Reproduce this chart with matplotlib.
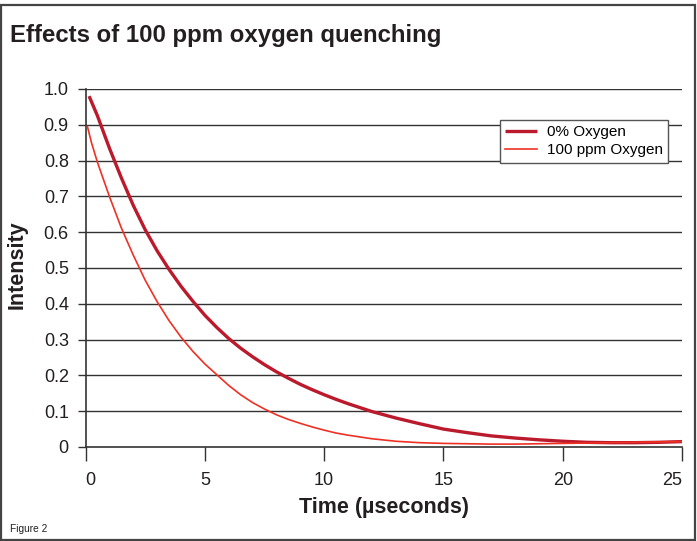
import matplotlib
matplotlib.use("Agg")
import matplotlib.pyplot as plt
from matplotlib.patches import Rectangle

plt.rcParams['font.family'] = ['Liberation Sans', 'DejaVu Sans']

# readings from the reference picture
t_0pct = [0.15, 0.5, 1.0, 1.5, 2.0, 2.5, 3.0, 3.5, 4.0, 4.5, 5.0, 5.5, 6.0,
          6.5, 7.0, 7.5, 8.0, 8.5, 9.0, 9.5, 10.0, 10.5, 11.0, 11.5, 12.0,
          13.0, 14.0, 15.0, 16.0, 17.0, 18.0, 19.0, 20.0, 21.0, 22.0, 23.0,
          24.0, 25.0]
i_0pct = [0.98, 0.925, 0.835, 0.752, 0.675, 0.607, 0.548, 0.496, 0.449, 0.407,
          0.368, 0.334, 0.303, 0.276, 0.252, 0.230, 0.210, 0.192, 0.175,
          0.160, 0.146, 0.133, 0.121, 0.110, 0.099, 0.081, 0.065, 0.050,
          0.040, 0.031, 0.025, 0.020, 0.016, 0.013, 0.012, 0.012, 0.013, 0.015]

t_100ppm = [0.08, 0.25, 0.5, 1.0, 1.5, 2.0, 2.5, 3.0, 3.5, 4.0, 4.5, 5.0, 5.5,
            6.0, 6.5, 7.0, 7.5, 8.0, 8.5, 9.0, 9.5, 10.0, 10.5, 11.0, 12.0,
            13.0, 14.0, 15.0, 16.0, 17.0, 18.0, 19.0, 20.0, 21.0, 22.0, 23.0,
            24.0, 25.0]
i_100ppm = [0.895, 0.85, 0.795, 0.70, 0.612, 0.536, 0.466, 0.406, 0.353,
            0.307, 0.267, 0.232, 0.202, 0.172, 0.146, 0.124, 0.106, 0.090,
            0.077, 0.066, 0.056, 0.047, 0.039, 0.033, 0.023, 0.016, 0.012,
            0.010, 0.009, 0.008, 0.008, 0.009, 0.010, 0.011, 0.012, 0.013,
            0.014, 0.015]

x_ticks = [0, 5, 10, 15, 20, 25]
y_ticks = [0, 0.1, 0.2, 0.3, 0.4, 0.5, 0.6, 0.7, 0.8, 0.9, 1.0]
y_labels = ['0', '0.1', '0.2', '0.3', '0.4', '0.5', '0.6', '0.7', '0.8', '0.9', '1.0']

fig = plt.figure(figsize=(6.97, 5.41), dpi=100)
ax = fig.add_axes([0.1227, 0.1738, 0.8558, 0.6617])

grid_col = '#333333'
for yv in y_ticks[1:]:
    ax.axhline(yv, color=grid_col, lw=1.0, zorder=1)

ax.plot(t_0pct, i_0pct, color='#bb1a2c', lw=2.4, label='0% Oxygen', zorder=3,
        solid_capstyle='butt')
ax.plot(t_100ppm, i_100ppm, color='#ee3124', lw=1.2, label='100 ppm Oxygen', zorder=3)

ax.set_xlim(0, 25)
ax.set_ylim(0, 1.0)
ax.set_xticks(x_ticks)
ax.set_yticks(y_ticks)
ax.set_yticklabels(y_labels)
ax.tick_params(axis='x', direction='out', length=10, width=1.0, color=grid_col,
               labelsize=13, pad=8, labelcolor='#231f20')
ax.tick_params(axis='y', direction='out', length=6, width=1.0, color=grid_col,
               labelsize=13, pad=6, labelcolor='#231f20')
xl = ax.get_xticklabels()
xl[0].set_ha('left')
xl[-1].set_ha('right')

for s in ['top', 'right']:
    ax.spines[s].set_visible(False)
for s in ['left', 'bottom']:
    ax.spines[s].set_color(grid_col)
    ax.spines[s].set_linewidth(1.2)

ax.set_xlabel('Time (µseconds)', fontsize=15.5, fontweight='bold', color='#231f20')
ax.xaxis.set_label_coords(0.5, -0.14)
ax.set_ylabel('Intensity', fontsize=15.5, fontweight='bold', color='#231f20')
ax.yaxis.set_label_coords(-0.097, 0.51)

leg = ax.legend(loc='upper right', bbox_to_anchor=(0.9765, 0.913), fontsize=11,
                frameon=True, fancybox=False, handlelength=2.1, handletextpad=0.6,
                borderpad=0.35, labelspacing=0.25, borderaxespad=0)
leg.get_frame().set_edgecolor('#555555')
leg.get_frame().set_linewidth(1.0)
leg.get_frame().set_alpha(1)

fig.text(10 / 697, 1 - 42 / 541, 'Effects of 100 ppm oxygen quenching',
         fontsize=17.3, fontweight='bold', color='#231f20', va='baseline', ha='left')
fig.text(10 / 697, 1 - 532 / 541, 'Figure 2', fontsize=7.3, color='#231f20',
         va='baseline', ha='left')

# outer frame
fig.patches.append(Rectangle((0.0015, 0.002), 0.9955, 0.989, transform=fig.transFigure,
                             fill=False, edgecolor='#444444', lw=1.6))

fig.savefig('out.png', dpi=100)
